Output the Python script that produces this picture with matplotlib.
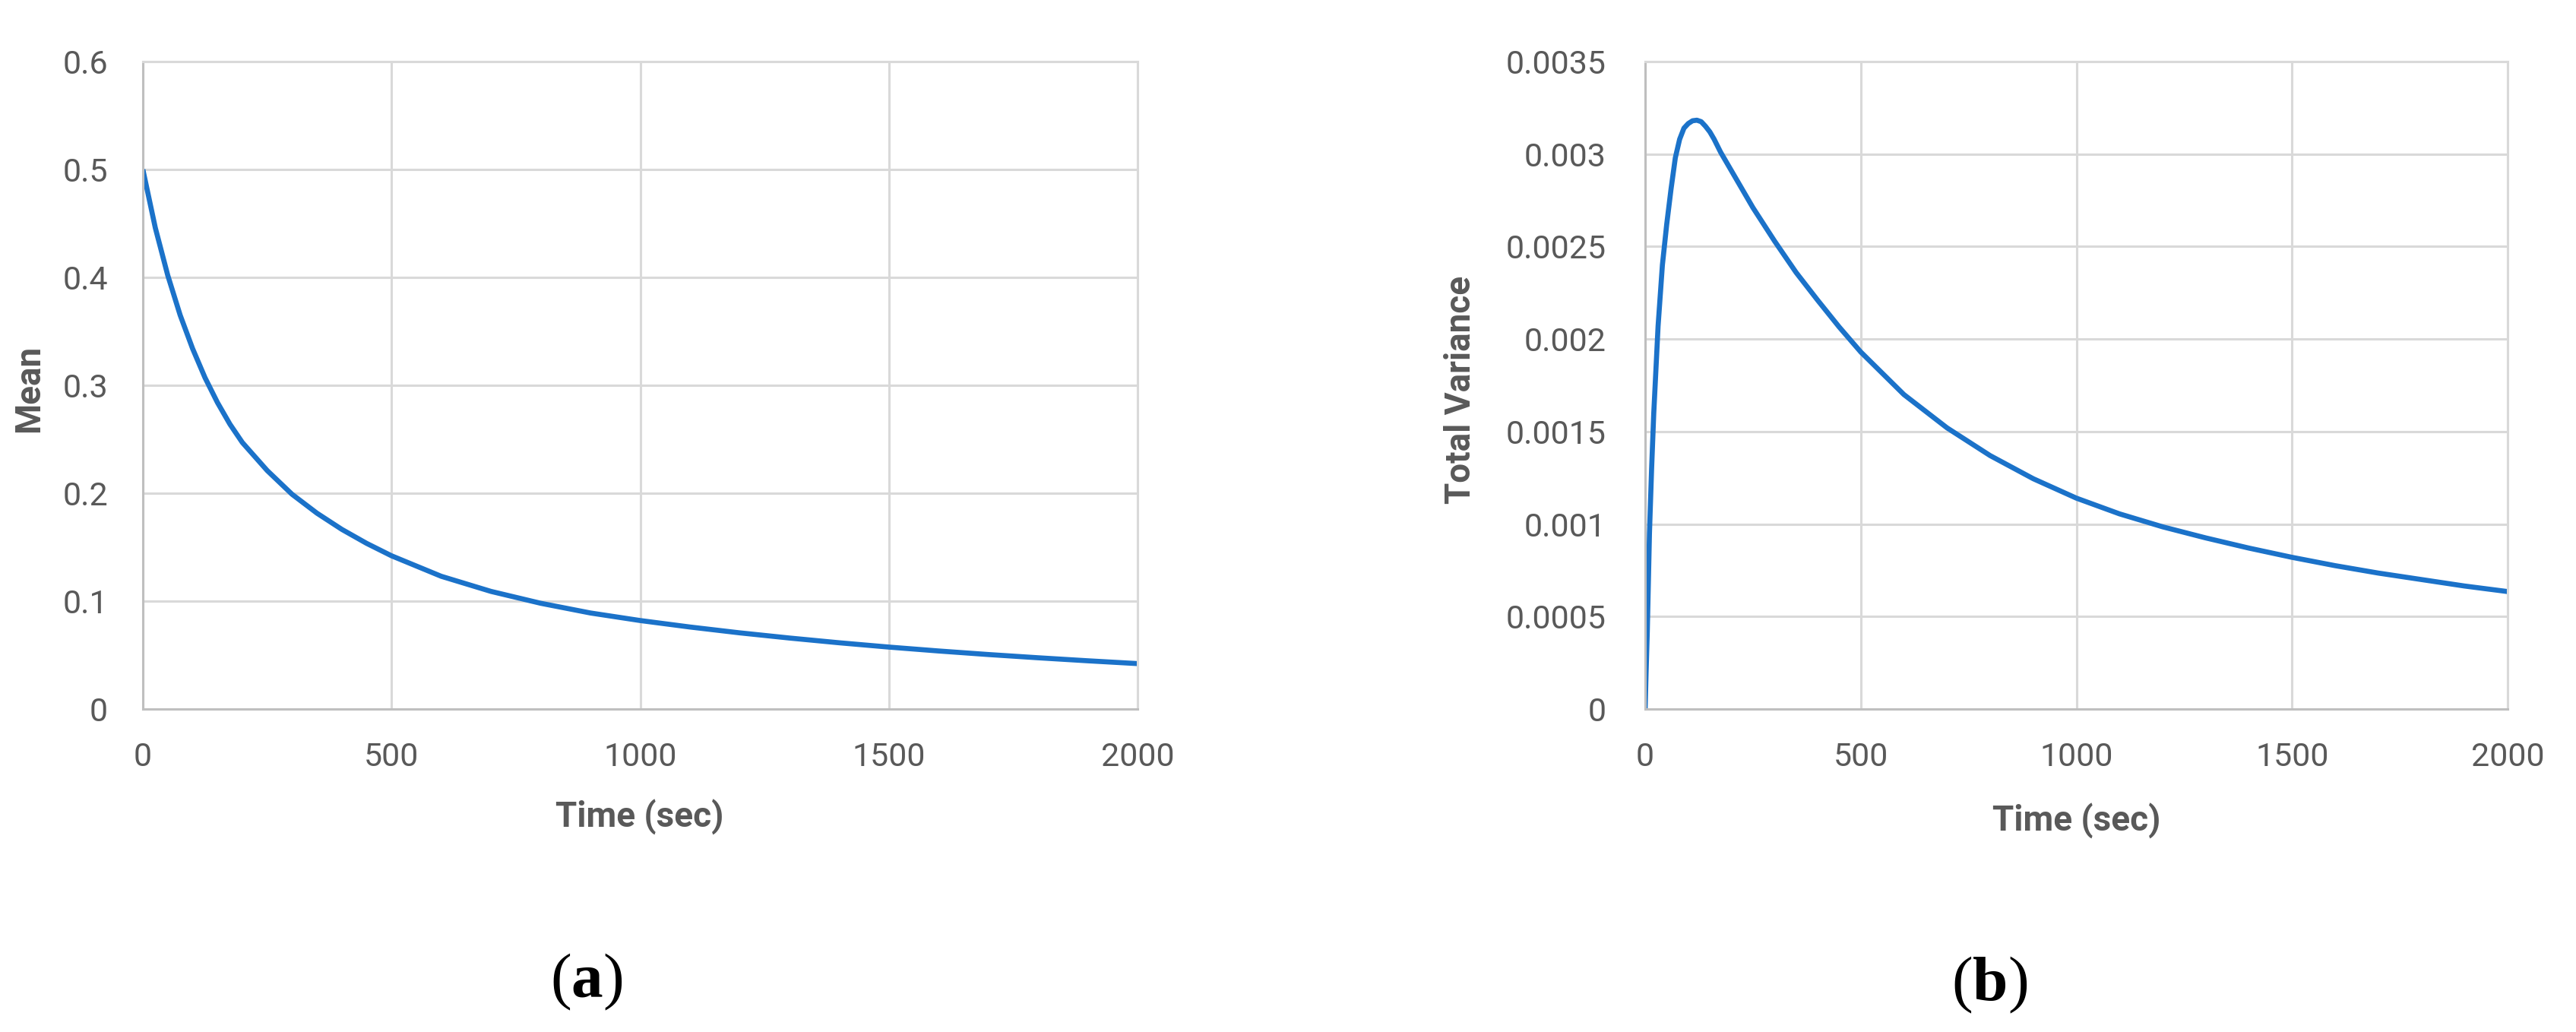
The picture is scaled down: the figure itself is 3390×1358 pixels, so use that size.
import matplotlib
matplotlib.use("Agg")
import matplotlib.pyplot as plt

# --- data ---
time_mean = [0, 25, 50, 75, 100, 125, 150, 175, 200, 250, 300, 350, 400, 450, 500,
             600, 700, 800, 900, 1000, 1100, 1200, 1300, 1400, 1500, 1600, 1700,
             1800, 1900, 2000]
mean_vals = [0.500, 0.446, 0.402, 0.365, 0.334, 0.307, 0.284, 0.264, 0.247, 0.221,
             0.199, 0.1815, 0.1665, 0.1535, 0.142, 0.123, 0.109, 0.098, 0.089, 0.082,
             0.0760, 0.0706, 0.0658, 0.0614, 0.0574, 0.0538, 0.0505, 0.0475, 0.0447,
             0.0421]

time_var = [0, 2, 5, 10, 15, 20, 30, 40, 50, 60, 70, 80, 90, 100, 110, 120, 130,
            140, 150, 160, 175, 200, 250, 300, 350, 400, 450, 500, 600, 700, 800,
            900, 1000, 1100, 1200, 1300, 1400, 1500, 1600, 1700, 1800, 1900, 2000]
var_vals = [0.0, 0.00018, 0.00042, 0.00095, 0.00130, 0.00160, 0.00207, 0.00240,
            0.00262, 0.00281, 0.00298, 0.00308, 0.00314, 0.003165, 0.00318, 0.003183,
            0.003175, 0.00315, 0.00312, 0.00308, 0.00301, 0.00291, 0.00271, 0.00253,
            0.00236, 0.00221, 0.002065, 0.00193, 0.00170, 0.00152, 0.00137,
            0.001245, 0.00114, 0.001055, 0.000985, 0.000925, 0.00087, 0.00082,
            0.000775, 0.000735, 0.0007, 0.000665, 0.000635]

x_ticks = [0, 500, 1000, 1500, 2000]
mean_ticks = [0, 0.1, 0.2, 0.3, 0.4, 0.5, 0.6]
mean_tick_labels = ["0", "0.1", "0.2", "0.3", "0.4", "0.5", "0.6"]
var_ticks = [0, 0.0005, 0.001, 0.0015, 0.002, 0.0025, 0.003, 0.0035]
var_tick_labels = ["0", "0.0005", "0.001", "0.0015", "0.002", "0.0025", "0.003", "0.0035"]

# --- style ---
W, H = 3390, 1358
LINE = "#1b72c9"
GRID = "#d9d9d9"
AXIS = "#bfbfbf"
TXT = "#595959"

plt.rcParams["font.family"] = ["Roboto", "DejaVu Sans"]
plt.rcParams["mathtext.fontset"] = "custom"
plt.rcParams["mathtext.rm"] = "Liberation Serif"
plt.rcParams["mathtext.bf"] = "Liberation Serif:bold"


def fx(x):
    return x / W


def fy(y):
    return 1 - y / H


fig = plt.figure(figsize=(W / 100, H / 100), dpi=100)

top, bottom = 81, 933
ax1 = fig.add_axes([fx(188), fy(bottom), fx(1497 - 188), (bottom - top) / H])
ax2 = fig.add_axes([fx(2165), fy(bottom), fx(3300 - 2165), (bottom - top) / H])


def style(ax, yticks, ylabels, ypad):
    ax.set_xlim(0, 2000)
    ax.set_xticks(x_ticks)
    ax.set_xticklabels([str(t) for t in x_ticks])
    ax.set_ylim(yticks[0], yticks[-1])
    ax.set_yticks(yticks)
    ax.set_yticklabels(ylabels)
    ax.grid(True, color=GRID, linewidth=2.2)
    ax.set_axisbelow(True)
    for side in ["top", "right"]:
        ax.spines[side].set_color(GRID)
        ax.spines[side].set_linewidth(2.2)
    for side in ["left", "bottom"]:
        ax.spines[side].set_color(AXIS)
        ax.spines[side].set_linewidth(2.2)
    ax.tick_params(axis="both", length=0, labelsize=31, labelcolor=TXT)
    ax.tick_params(axis="x", pad=31)
    ax.tick_params(axis="y", pad=ypad)


ax1.plot(time_mean, mean_vals, color=LINE, linewidth=4.8,
         solid_capstyle="butt", solid_joinstyle="round")
style(ax1, mean_ticks, mean_tick_labels, 33)

ax2.plot(time_var, var_vals, color=LINE, linewidth=4.8,
         solid_capstyle="butt", solid_joinstyle="round")
style(ax2, var_ticks, var_tick_labels, 37)

# axis titles
fig.text(fx(38), fy(511), "Mean", rotation=90, ha="center", va="center",
         fontsize=33, fontweight="bold", color=TXT)
fig.text(fx(1922), fy(513), "Total Variance", rotation=90, ha="center", va="center",
         fontsize=33, fontweight="bold", color=TXT)
fig.text(fx(842), fy(1075), "Time (sec)", ha="center", va="center",
         fontsize=33, fontweight="bold", color=TXT)
fig.text(fx(2733), fy(1080), "Time (sec)", ha="center", va="center",
         fontsize=33, fontweight="bold", color=TXT)

# panel letters
fig.text(fx(772), fy(1292), r"($\mathbf{a}$)", ha="center", va="center",
         fontsize=60, family="Liberation Serif", color="black")
fig.text(fx(2618), fy(1296), r"($\mathbf{b}$)", ha="center", va="center",
         fontsize=60, family="Liberation Serif", color="black")

fig.savefig("out.png", dpi=100, facecolor="white")
